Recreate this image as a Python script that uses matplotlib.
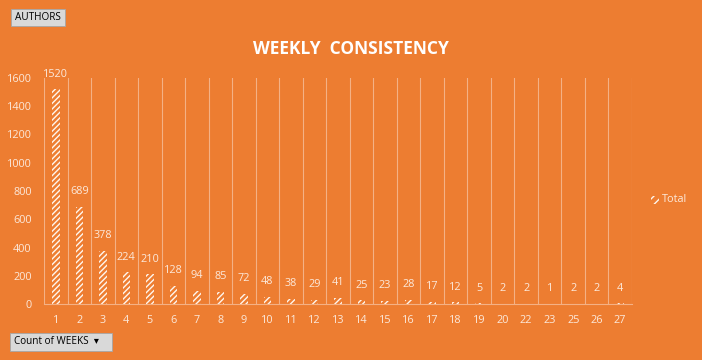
import matplotlib
matplotlib.use("Agg")
import matplotlib.pyplot as plt
from matplotlib.patches import FancyBboxPatch, Rectangle

# weeks active -> number of authors
weeks = ["1", "2", "3", "4", "5", "6", "7", "8", "9", "10", "11", "12", "13",
         "14", "15", "16", "17", "18", "19", "20", "22", "23", "25", "26", "27"]
authors = [1520, 689, 378, 224, 210, 128, 94, 85, 72, 48, 38, 29, 41,
           25, 23, 28, 17, 12, 5, 2, 2, 1, 2, 2, 4]
yticks = [0, 200, 400, 600, 800, 1000, 1200, 1400, 1600]

bg = "#ED7D31"
txt = "#FCE9DB"
grid = "#F4B185"

plt.rcParams["font.family"] = ["Open Sans", "DejaVu Sans"]
plt.rcParams["hatch.linewidth"] = 1.0

fig = plt.figure(figsize=(7.02, 3.6), dpi=100, facecolor=bg)
ax = fig.add_axes([44 / 702, 56 / 360, 588 / 702, 226 / 360])
ax.set_facecolor(bg)

x = list(range(len(weeks)))
ax.bar(x, authors, width=0.32, facecolor="none", edgecolor="#FFF6EE",
       hatch="//////", linewidth=0)

for xi, v in zip(x, authors):
    ax.annotate(str(v), (xi, v), xytext=(0, 7), textcoords="offset points",
                ha="center", va="bottom", color=txt, fontsize=7.8)

ax.set_xlim(-0.5, len(weeks) - 0.5)
ax.set_ylim(0, 1600)
ax.set_yticks(yticks)
ax.set_yticklabels([str(t) for t in yticks])
ax.set_xticks(x)
ax.set_xticklabels(weeks)
ax.tick_params(axis="both", length=0, colors=txt, labelsize=7.8)
ax.tick_params(axis="y", pad=9)
ax.tick_params(axis="x", pad=8)

for b in range(len(weeks) + 1):
    ax.axvline(b - 0.5, color=grid, lw=0.8, zorder=0)
for s in ["top", "right", "left"]:
    ax.spines[s].set_visible(False)
ax.spines["bottom"].set_color(grid)
ax.spines["bottom"].set_linewidth(0.8)

fig.text(351 / 702, 1 - 49 / 360, "WEEKLY  CONSISTENCY", ha="center", va="center",
         color="white", fontsize=12.5, fontweight="bold")

# legend
fig.patches.append(Rectangle((651 / 702, 1 - 204 / 360), 8 / 702, 8 / 360,
                             transform=fig.transFigure, facecolor="none",
                             edgecolor="#FFF6EE", hatch="////", linewidth=0))
fig.text(662 / 702, 1 - 199 / 360, "Total", ha="left", va="center",
         color=txt, fontsize=7.8)

# pivot field buttons
def button(x0, y0, w, h, label):
    fig.patches.append(FancyBboxPatch((x0 / 702, 1 - (y0 + h) / 360), w / 702, h / 360,
                                      boxstyle="square,pad=0", transform=fig.transFigure,
                                      facecolor="#D9D9D9", edgecolor="#A6A6A6", lw=0.6))
    fig.text((x0 + 4) / 702, 1 - (y0 + h / 2) / 360, label, ha="left", va="center",
             color="black", fontsize=7.2)

button(11, 9, 54, 17, "AUTHORS")
button(10, 333, 102, 18, "Count of WEEKS  \u25BE")

fig.savefig("out.png", dpi=100, facecolor=bg)
